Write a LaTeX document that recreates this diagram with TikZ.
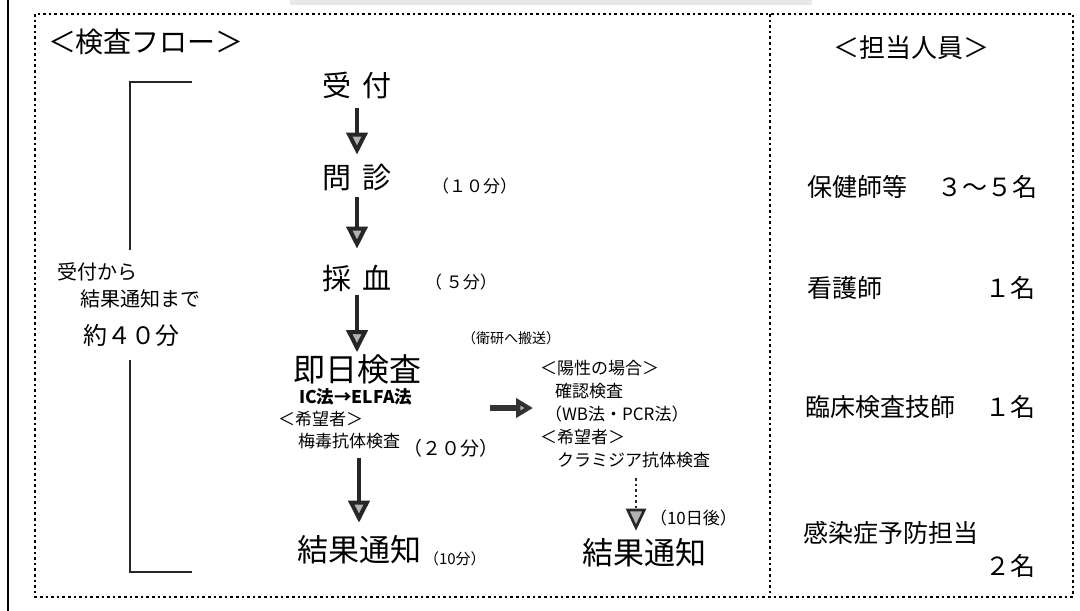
\documentclass[tikz,border=0pt]{standalone}
\usepackage{fontspec}
\setmainfont{Noto Sans CJK JP}
\usetikzlibrary{arrows.meta}
\newcommand{\fs}[1]{\fontsize{#1}{#1}\selectfont}
\begin{document}
\begin{tikzpicture}[x=1pt,y=-1pt,
  every node/.style={inner sep=0pt, outer sep=0pt},
  bordr/.style={line width=2.8pt, dash pattern=on 2.6pt off 3pt},
  stage/.style={font=\fs{29}},
  stagebig/.style={font=\fs{32}},
  note/.style={font=\fs{17}},
  staff/.style={font=\fs{25}},
  downarrow/.style={line width=4pt, draw=gray!30!black,
    -{Triangle[width=21pt,length=22pt,fill=gray!60]}},
  rarrow/.style={line width=5.5pt, draw=gray!40!black,
    -{Triangle[width=19pt,length=17pt,fill=gray!60]}},
  darrow/.style={line width=2.6pt, draw=gray!30!black, dash pattern=on 2.5pt off 3pt,
    -{Triangle[width=20pt,length=22pt,fill=gray!60]}},
  brk/.style={line width=1.3pt, draw=black!85}
]
\useasboundingbox (0,0) rectangle (1080,611);
% scan artefacts
\fill[gray!18] (290,0) rectangle (812,4.5);
\draw[line width=2.6pt] (8,0) -- (8,611);
% frames
\draw[bordr] (35,14) rectangle (1073,597);
\draw[bordr] (770,14) -- (770,597);
% titles
\node[anchor=west, font=\fs{28}] (tflow) at (48,42) {＜検査フロー＞};
\node[anchor=west, font=\fs{26}] (tstaff) at (833,48) {＜担当人員＞};
% bracket
\draw[brk] (192,82) -- (130,82) -- (130,250);
\draw[brk] (130,360) -- (130,572) -- (192,572);
\node[anchor=west, font=\fs{20}] (tot1) at (57,272) {受付から};
\node[anchor=west, font=\fs{20}] (tot2) at (80,299) {結果通知まで};
\node[anchor=west, font=\fs{24}] (tot3) at (83,335) {約４０分};
% main flow
\node[stage] (uke) at (357,85) {受\hspace{11pt}付};
\node[stage] (mon) at (357,178) {問\hspace{11pt}診};
\node[note, anchor=west] (t1) at (432,186) {（１０分）};
\node[stage] (sai) at (357,278) {採\hspace{12pt}血};
\node[note, anchor=west] (t2) at (425,282) {（ ５分）};
\node[stagebig] (soku) at (357,369) {即日検査};
\node[anchor=west, font=\fs{14}] (eiken) at (462,338) {（衛研へ搬送）};
\node[anchor=west, font=\bfseries\fs{17.5}] (ic) at (299,397) {IC法→ELFA法};
\node[note, anchor=west] (kibo1) at (278,419) {＜希望者＞};
\node[note, anchor=west] (ume) at (298,441) {梅毒抗体検査};
\node[font=\fs{19}, anchor=west] (t3) at (403,448) {（２０分）};
\node[font=\fs{31}] (kek1) at (359,550) {結果通知};
\node[font=\fs{15}, anchor=west] (t4) at (424,559) {（10分）};
% right branch
\node[note, anchor=west] (yosei) at (540,368) {＜陽性の場合＞};
\node[note, anchor=west] (kaku) at (555,391) {確認検査};
\node[note, anchor=west] (wb) at (545,414) {（WB法・PCR法）};
\node[note, anchor=west] (kibo2) at (540,437) {＜希望者＞};
\node[note, anchor=west] (chla) at (557,460) {クラミジア抗体検査};
\node[font=\fs{17}, anchor=west] (t5) at (650,518) {（10日後）};
\node[font=\fs{31}] (kek2) at (644,553) {結果通知};
% arrows
\draw[downarrow, shorten <=10pt, shorten >=10pt] (uke) -- (mon);
\draw[downarrow, shorten <=6pt, shorten >=16pt] (mon) -- (sai);
\draw[downarrow, shorten <=4pt, shorten >=2pt] (sai) -- (soku);
\draw[downarrow, shorten <=9pt, shorten >=13pt] (kek1.north |- ume.south) -- (kek1.north);
\coordinate (ra) at (490,408);
\draw[rarrow, shorten >=12pt] (ra) -- (ra -| wb.west);
\coordinate (da) at (636,478);
\draw[darrow, shorten >=8pt] (da) -- (da |- kek2.north);
% staff
\node[staff, anchor=west] (s1) at (807,187) {保健師等};
\node[staff, anchor=east] (s1n) at (1037,187) {３～５名};
\node[staff, anchor=west] (s2) at (807,288) {看護師};
\node[staff, anchor=east] (s2n) at (1035,288) {１名};
\node[staff, anchor=west] (s3) at (805,407) {臨床検査技師};
\node[staff, anchor=east] (s3n) at (1035,407) {１名};
\node[staff, anchor=west] (s4) at (803,533) {感染症予防担当};
\node[staff, anchor=east] (s4n) at (1035,566) {２名};
\end{tikzpicture}
\end{document}
